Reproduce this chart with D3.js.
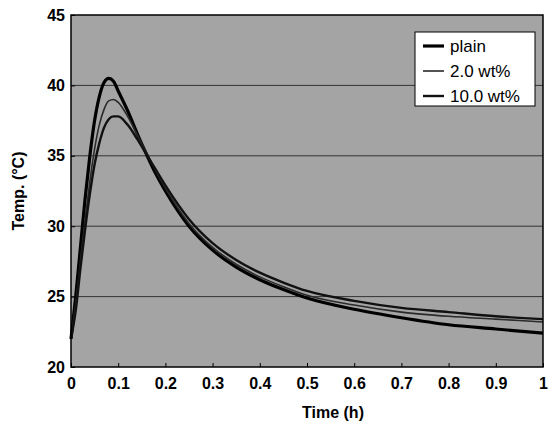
<html>
<head>
    <title>Temp. vs Time</title>
    <style>
        body { margin: 0; background: #fff; }
        text { font-family: "Liberation Sans", Arial, sans-serif; }
    </style>
</head>
<body>
    <div id="grafico"></div>
    <script src="https://d3js.org/d3.v7.min.js"></script>
    <script>
        // Dados
        const tempo = [0, 0.01, 0.02, 0.03, 0.04, 0.05, 0.06, 0.07, 0.08, 0.09, 0.1, 0.12, 0.14, 0.16, 0.18, 0.2, 0.25, 0.3, 0.35, 0.4, 0.45, 0.5, 0.6, 0.7, 0.8, 0.9, 1.0];
        const plain = [22, 25, 28.5, 32, 35, 37.5, 39.2, 40.2, 40.5, 40.3, 39.6, 38.2, 36.6, 35.1, 33.7, 32.5, 30.0, 28.3, 27.1, 26.2, 25.5, 24.9, 24.1, 23.5, 23.0, 22.7, 22.4];
        const wt2 = [22, 24.5, 27.5, 30.5, 33.2, 35.5, 37.2, 38.3, 38.9, 39.0, 38.8, 37.8, 36.5, 35.2, 33.9, 32.7, 30.2, 28.5, 27.3, 26.4, 25.7, 25.1, 24.4, 23.9, 23.6, 23.4, 23.2];
        const wt10 = [22, 24, 27, 29.8, 32.3, 34.4, 35.9, 37.0, 37.6, 37.8, 37.8, 37.2, 36.2, 35.1, 34.0, 32.9, 30.5, 28.8, 27.6, 26.7, 26.0, 25.4, 24.7, 24.2, 23.9, 23.6, 23.4];
        const nomes = ["plain", "2.0 wt%", "10.0 wt%"];
        const xTicks = [0, 0.1, 0.2, 0.3, 0.4, 0.5, 0.6, 0.7, 0.8, 0.9, 1];
        const yTicks = [20, 25, 30, 35, 40, 45];

        const series = [
            { nome: nomes[0], valores: plain, cor: "#000", largura: 3.2 },
            { nome: nomes[1], valores: wt2, cor: "#2a2a2a", largura: 1.6 },
            { nome: nomes[2], valores: wt10, cor: "#111", largura: 2.4 }
        ];

        const margin = {top: 15, right: 6, bottom: 57, left: 71};
        const width = 549 - margin.left - margin.right;
        const height = 424 - margin.top - margin.bottom;

        const svg = d3.select("#grafico")
            .append("svg")
            .attr("width", 549)
            .attr("height", 424)
            .append("g")
            .attr("transform", `translate(${margin.left},${margin.top})`);

        const x = d3.scaleLinear().domain([0, 1]).range([0, width]);
        const y = d3.scaleLinear().domain([20, 45]).range([height, 0]);

        // Fundo cinza da área do gráfico
        svg.append("rect")
            .attr("width", width)
            .attr("height", height)
            .attr("fill", "#a4a4a4");

        // Linhas de grade horizontais
        svg.selectAll("line.grade")
            .data(yTicks.filter(d => d > 20 && d < 45))
            .join("line")
              .attr("class", "grade")
              .attr("x1", 0)
              .attr("x2", width)
              .attr("y1", d => y(d))
              .attr("y2", d => y(d))
              .attr("stroke", "#333")
              .attr("stroke-width", 1);

        // Eixos (ticks para dentro)
        const eixoX = svg.append("g")
            .attr("transform", `translate(0, ${height})`)
            .call(d3.axisBottom(x).tickValues(xTicks).tickSize(-4).tickPadding(11).tickFormat(d => d));
        const eixoY = svg.append("g")
            .call(d3.axisLeft(y).tickValues(yTicks).tickSize(-4).tickPadding(6));

        [eixoX, eixoY].forEach(g => {
            g.select(".domain").remove();
            g.selectAll("line").attr("stroke", "#000");
            g.selectAll("text")
                .style("font-size", "16px")
                .style("font-weight", "bold")
                .attr("fill", "#000");
        });

        // Curvas
        const linha = d3.line()
            .x((d, i) => x(tempo[i]))
            .y(d => y(d))
            .curve(d3.curveMonotoneX);

        svg.selectAll("path.curva")
            .data(series)
            .join("path")
              .attr("class", "curva")
              .attr("d", d => linha(d.valores))
              .attr("fill", "none")
              .attr("stroke", d => d.cor)
              .attr("stroke-width", d => d.largura)
              .attr("stroke-linejoin", "round");

        // Borda
        svg.append("rect")
            .attr("width", width)
            .attr("height", height)
            .attr("fill", "none")
            .attr("stroke", "#000")
            .attr("stroke-width", 1.5);

        // Legenda
        const legenda = svg.append("g")
            .attr("transform", `translate(${415 - margin.left},${32 - margin.top})`);
        legenda.append("rect")
            .attr("width", 120)
            .attr("height", 74)
            .attr("fill", "#fff")
            .attr("stroke", "#000")
            .attr("stroke-width", 1);
        series.forEach((s, i) => {
            const yy = 14 + i * 25;
            legenda.append("line")
                .attr("x1", 8).attr("x2", 29)
                .attr("y1", yy).attr("y2", yy)
                .attr("stroke", s.cor)
                .attr("stroke-width", s.largura);
            legenda.append("text")
                .attr("x", 35)
                .attr("y", yy)
                .attr("dy", "0.35em")
                .style("font-size", "17px")
                .text(s.nome);
        });

        // Títulos dos eixos
        svg.append("text")
            .attr("x", 333 - margin.left)
            .attr("y", height + 51)
            .attr("text-anchor", "middle")
            .style("font-size", "16px")
            .style("font-weight", "bold")
            .text("Time (h)");

        svg.append("text")
            .attr("transform", "rotate(-90)")
            .attr("x", -height / 2)
            .attr("y", -47)
            .attr("text-anchor", "middle")
            .style("font-size", "16px")
            .style("font-weight", "bold")
            .text("Temp. (°C)");
    </script>
</body>
</html>
